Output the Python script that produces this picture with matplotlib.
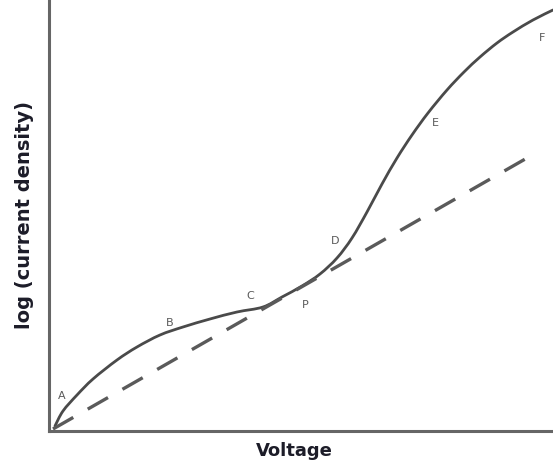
import matplotlib.pyplot as plt
from matplotlib.path import Path
from matplotlib.patches import PathPatch

# curve (arbitrary units)
voltage = [3, 11, 25, 41, 65, 85, 108, 131, 158, 185, 211, 230, 250, 268,
           285, 300, 315, 330, 345, 360, 376, 395, 412, 428, 445, 461, 481, 501]
log_j = [4, 19, 35, 51, 70, 83, 95, 103, 111, 118, 123, 133, 144, 156,
         172, 192, 218, 246, 272, 295, 317, 340, 358, 373, 387, 398, 410, 420]

# dashed straight line
line_v = [1, 475]
line_j = [1, 272]

labels = ['A', 'B', 'C', 'P', 'D', 'E', 'F']
label_v = [10, 118, 198, 253, 283, 383, 490]
label_j = [34, 107, 134, 125, 189, 307, 392]


def smooth_path(xs, ys):
    # catmull-rom through the points, drawn as cubic beziers
    pts = list(zip(xs, ys))
    verts = [pts[0]]
    codes = [Path.MOVETO]
    for i in range(len(pts) - 1):
        p0 = pts[i - 1] if i > 0 else pts[i]
        p1 = pts[i]
        p2 = pts[i + 1]
        p3 = pts[i + 2] if i + 2 < len(pts) else pts[i + 1]
        c1 = (p1[0] + (p2[0] - p0[0]) / 6, p1[1] + (p2[1] - p0[1]) / 6)
        c2 = (p2[0] - (p3[0] - p1[0]) / 6, p2[1] - (p3[1] - p1[1]) / 6)
        verts += [c1, c2, p2]
        codes += [Path.CURVE4] * 3
    return Path(verts, codes)


fig = plt.figure(figsize=(5.53, 4.65), dpi=100, facecolor='#FFFFFF')
ax = fig.add_axes([49/553, 34/465, 504/553, 431/465])
ax.set_xlim(-3, 501)
ax.set_ylim(-1, 430)

ax.add_patch(PathPatch(smooth_path(voltage, log_j), facecolor='none',
                       edgecolor='#4a4a4a', linewidth=2.0, capstyle='round'))
ax.plot(line_v, line_j, color='#5a5a5a', linewidth=2.4, linestyle=(0, (7, 5)))

for t, x, y in zip(labels, label_v, label_j):
    ax.text(x, y, t, fontsize=8, color='#5a5a5a', ha='center', va='center')

for s in ['top', 'right']:
    ax.spines[s].set_visible(False)
for s in ['left', 'bottom']:
    ax.spines[s].set_color('#666666')
    ax.spines[s].set_linewidth(2.2)
ax.set_xticks([])
ax.set_yticks([])

fig.text(294/553, 1 - 451/465, 'Voltage', fontsize=13, fontweight='bold',
         ha='center', va='center', color='#1c1c28')
fig.text(25/553, 1 - 215/465, 'log (current density)', fontsize=14, fontweight='bold',
         rotation=90, ha='center', va='center', color='#1c1c28')

plt.savefig('out.png', dpi=100)
